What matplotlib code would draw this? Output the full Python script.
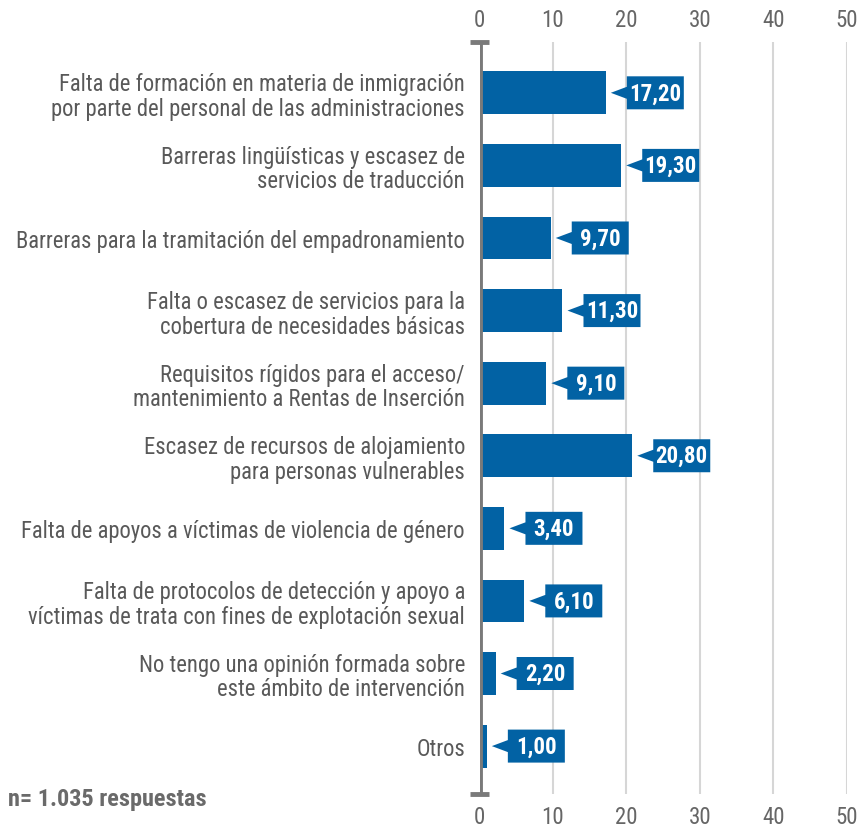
import matplotlib
matplotlib.use('Agg')
import matplotlib.pyplot as plt
from matplotlib.patches import Polygon
from matplotlib.transforms import Affine2D
from matplotlib import font_manager

categorias = [
    'Falta de formación en materia de inmigración\npor parte del personal de las administraciones',
    'Barreras lingüísticas y escasez de\nservicios de traducción',
    'Barreras para la tramitación del empadronamiento',
    'Falta o escasez de servicios para la\ncobertura de necesidades básicas',
    'Requisitos rígidos para el acceso/\nmantenimiento a Rentas de Inserción',
    'Escasez de recursos de alojamiento\npara personas vulnerables',
    'Falta de apoyos a víctimas de violencia de género',
    'Falta de protocolos de detección y apoyo a\nvíctimas de trata con fines de explotación sexual',
    'No tengo una opinión formada sobre\neste ámbito de intervención',
    'Otros',
]
valores = [17.2, 19.3, 9.7, 11.3, 9.1, 20.8, 3.4, 6.1, 2.2, 1.0]
ticks = [0, 10, 20, 30, 40, 50]
nota = 'n= 1.035 respuestas'

# fuente estrecha, la primera que esté instalada
names = {f.name for f in font_manager.fontManager.ttflist}
fuente = next((n for n in ['Roboto Condensed', 'PT Sans Narrow', 'Asap Condensed',
                           'Barlow Semi Condensed', 'DejaVu Sans'] if n in names))
plt.rcParams['font.family'] = fuente

azul = '#0262a4'
gris_txt = '#595959'

W, H = 860, 829
fig = plt.figure(figsize=(W / 100, H / 100), dpi=100)
ax = fig.add_axes([479.5 / W, 1 - 795 / H, (846.7 - 479.5) / W, (795 - 43) / H])

y = list(range(len(categorias)))
ax.barh(y, valores, height=0.59, color=azul, zorder=2)
ax.set_xlim(0, 50)
ax.set_ylim(len(categorias) - 1 + 0.66, -0.70)

ax.set_xticks(ticks)
ax.tick_params(axis='x', top=True, labeltop=True, length=0, pad=8,
               labelsize=16.5, labelcolor='#666666')
ax.set_yticks(y)
ax.set_yticklabels(categorias, fontsize=16.3, color=gris_txt, linespacing=1.08)
ax.tick_params(axis='y', length=0, pad=10.5)
ax.grid(axis='x', color='#cccccc', linewidth=1.5, alpha=0.8, zorder=3)
for s in ax.spines.values():
    s.set_visible(False)

# eje vertical con remates arriba y abajo
ax.axvline(0, color='#7a7a7a', linewidth=3.5, zorder=4)
lo, hi = ax.get_ylim()
for yy in (lo, hi):
    ax.plot([-1.25, 1.25], [yy, yy], color='#7a7a7a', linewidth=3.5,
            clip_on=False, zorder=4, solid_capstyle='butt')

# etiquetas de valor: recuadro con flecha hacia la barra
forma = [(5, 0), (21, 6), (21, 16.5), (78, 16.5), (78, -16.5), (21, -16.5), (21, -6)]
for i, v in enumerate(valores):
    px, py = ax.transData.transform((v, i))
    tr = Affine2D().translate(px, py)
    ax.add_patch(Polygon(forma, closed=True, facecolor=azul, edgecolor='none',
                         transform=tr, clip_on=False, zorder=5))
    cx, cy = fig.transFigure.inverted().transform((px + 49.5, py))
    fig.text(cx, cy, f'{v:.2f}'.replace('.', ','), color='white', fontsize=16.5,
             fontweight='bold', ha='center', va='center', zorder=6)

fig.text(8 / W, 1 - 800 / H, nota, fontsize=17.5, fontweight='bold',
         color='#6a6a6a', ha='left', va='center')

fig.savefig('out.png', dpi=100)
